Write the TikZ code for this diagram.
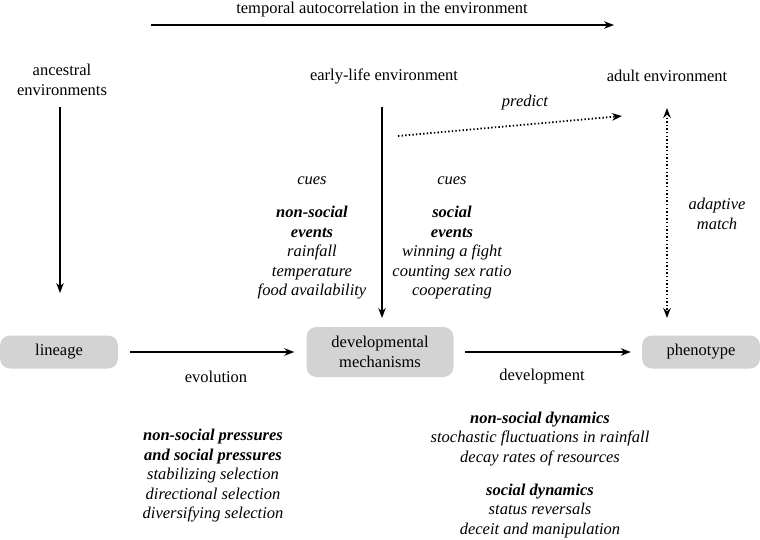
\documentclass[tikz,border=0pt]{standalone}
\usepackage{fontspec}
\setmainfont{Liberation Serif}
\usetikzlibrary{arrows.meta}
\begin{document}
\begin{tikzpicture}[x=1pt,y=-1pt,
  every node/.style={font=\fontsize{16.5}{19.5}\selectfont, inner sep=0pt, align=center},
  box/.style={fill=boxgray, rounded corners=10pt, minimum width=118pt, minimum height=33pt},
  arr/.style={-{Stealth[length=10pt,width=7.5pt]}, line width=1.4pt},
  dotarr/.style={-{Stealth[length=10pt,width=7.5pt]}, line width=1.8pt, dash pattern=on 1.4pt off 2.2pt},
  lbl/.style={font=\fontsize{16.5}{19.5}\selectfont\itshape}]
\definecolor{boxgray}{HTML}{D3D3D3}
\useasboundingbox (0,0) rectangle (760,540);

% top arrow
\node (temporal) at (382,10) {temporal autocorrelation in the environment};
\coordinate (t1) at (151,25);
\coordinate (t2) at (614,25);
\draw[arr] (t1) -- (t2);

% environments
\node (ancestral) at (62,80) {ancestral\\environments};
\node (early) at (384,76) {early-life environment};
\node (adult) at (667,76) {adult environment};

% boxes
\node[box] (lineage) at (59,352) {lineage};
\node[box, minimum width=147pt, minimum height=50pt] (devmech) at (380,352) {developmental\\mechanisms};
\node[box] (phenotype) at (701,352) {phenotype};

% vertical arrows
\coordinate (a1) at (60,107);
\coordinate (a2) at (60,293);
\draw[arr] (a1) -- (a2);
\coordinate (e1) at (382,107);
\coordinate (e2) at (382,318);
\draw[arr] (e1) -- (e2);

% predict
\coordinate (p1) at (398,136);
\coordinate (p2) at (622,116);
\draw[dotarr] (p1) -- (p2);
\node[lbl] (predict) at (525,103) {predict};

% adaptive match
\coordinate (m1) at (667,108);
\coordinate (m2) at (667,318);
\draw[dotarr, {Stealth[length=10pt,width=7.5pt]}-{Stealth[length=10pt,width=7.5pt]}] (m1) -- (m2);
\node[lbl] (adaptive) at (717,214) {adaptive\\match};

% horizontal arrows
\draw[arr, shorten <=12pt, shorten >=12pt] (lineage) -- (devmech);
\draw[arr, shorten <=11pt, shorten >=11pt] (devmech) -- (phenotype);
\node (evolution) at (216,377) {evolution};
\node (development) at (542,377) {development};

% cues
\node[lbl] (cues1) at (312,181) {cues};
\node[lbl] (cues2) at (452,181) {cues};
\node (nonsoc) at (312,253) {{\bfseries\itshape non-social}\\{\bfseries\itshape events}\\{\itshape rainfall}\\{\itshape temperature}\\{\itshape food availability}};
\node (soc) at (452,253) {{\bfseries\itshape social}\\{\bfseries\itshape events}\\{\itshape winning a fight}\\{\itshape counting sex ratio}\\{\itshape cooperating}};

% bottom
\node (press) at (213,476) {{\bfseries\itshape non-social pressures}\\{\bfseries\itshape and social pressures}\\{\itshape stabilizing selection}\\{\itshape directional selection}\\{\itshape diversifying selection}};
\node (nsdyn) at (540,439) {{\bfseries\itshape non-social dynamics}\\{\itshape stochastic fluctuations in rainfall}\\{\itshape decay rates of resources}};
\node (sdyn) at (540,511) {{\bfseries\itshape social dynamics}\\{\itshape status reversals}\\{\itshape deceit and manipulation}};
\end{tikzpicture}
\end{document}
